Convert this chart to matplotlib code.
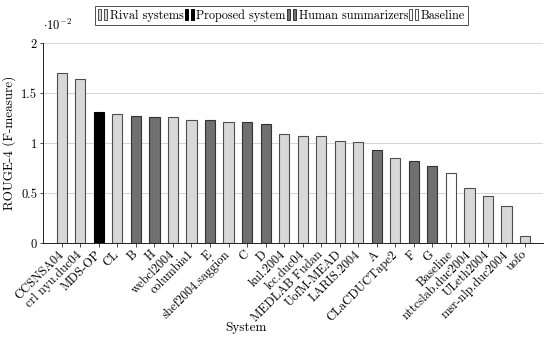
import matplotlib
matplotlib.use('Agg')
import matplotlib.pyplot as plt
from matplotlib.patches import Rectangle
from matplotlib.legend_handler import HandlerTuple
from matplotlib.ticker import FuncFormatter

# systems, sorted by score as in the figure
systems = ['CCSNSA04', 'crl nyu.duc04', 'MDS-OP', 'CL', 'B', 'H', 'webcl2004',
           'columbia1', 'E', 'shef2004.saggion', 'C', 'D', 'kul.2004', 'lcc.duc04',
           'MEDLAB Fudan', 'UofM-MEAD', 'LARIS.2004', 'A', 'CLaCDUCTape2', 'F', 'G',
           'Baseline', 'nttcslab.duc2004', 'ULeth2004', 'msr-nlp.duc2004', 'uofo']
# ROUGE-4 scores in units of 1e-2
scores = [1.70, 1.645, 1.315, 1.29, 1.275, 1.265, 1.257, 1.233, 1.23, 1.213,
          1.21, 1.187, 1.093, 1.073, 1.067, 1.02, 1.01, 0.933, 0.853, 0.823,
          0.767, 0.697, 0.547, 0.467, 0.373, 0.07]
groups = ['rival', 'rival', 'proposed', 'rival', 'human', 'human', 'rival',
          'rival', 'human', 'rival', 'human', 'human', 'rival', 'rival',
          'rival', 'rival', 'rival', 'human', 'rival', 'human', 'human',
          'baseline', 'rival', 'rival', 'rival', 'rival']

group_names = ['Rival systems', 'Proposed system', 'Human summarizers', 'Baseline']
group_keys = ['rival', 'proposed', 'human', 'baseline']
face = {'rival': '#d8d8d8', 'proposed': '#000000', 'human': '#707070', 'baseline': '#ffffff'}
edge = {'rival': '#4d4d4d', 'proposed': '#000000', 'human': '#333333', 'baseline': '#4d4d4d'}

plt.rcParams['font.family'] = 'serif'
plt.rcParams['font.serif'] = ['cmr10', 'DejaVu Serif']
plt.rcParams['mathtext.fontset'] = 'cm'
plt.rcParams['axes.unicode_minus'] = False

fig = plt.figure(figsize=(5.5, 3.39), dpi=100)
ax = fig.add_axes([0.0776, 0.283, 0.909, 0.59])

x = list(range(len(systems)))
ax.bar(x, scores, width=0.55,
       color=[face[g] for g in groups],
       edgecolor=[edge[g] for g in groups], linewidth=0.8, zorder=3)

ax.set_xlim(-1.03, 25.95)
ax.set_ylim(0, 2)
ax.set_yticks([0, 0.5, 1, 1.5, 2])
ax.yaxis.set_major_formatter(FuncFormatter(lambda v, p: f'{v:g}'))
ax.yaxis.grid(True, color='#cccccc', linewidth=0.6, zorder=0)
ax.set_axisbelow(True)

for s in ['top', 'right']:
    ax.spines[s].set_visible(False)
for s in ['left', 'bottom']:
    ax.spines[s].set_linewidth(0.7)
    ax.spines[s].set_color('#222222')

ax.set_xticks(x)
ax.set_xticklabels(systems, rotation=45, ha='right', va='center',
                   rotation_mode='anchor', fontsize=9)
ax.tick_params(axis='x', direction='out', length=3, width=0.5, pad=4)
ax.tick_params(axis='y', direction='out', length=2, width=0.5, labelsize=9, pad=2)

ax.set_ylabel('ROUGE-4 (F-measure)', fontsize=9.5)
ax.yaxis.set_label_coords(-0.054, 0.5)
ax.set_xlabel('System', fontsize=9.5)
ax.xaxis.set_label_coords(0.407, -0.425)
ax.xaxis.label.set_va('center')

ax.text(0.0, 1.05, r'$\cdot10^{-2}$', transform=ax.transAxes, fontsize=9,
        ha='left', va='bottom')

handles = [(Rectangle((0, 0), 1, 1, fc=face[k], ec=edge[k], lw=0.7),
            Rectangle((0, 0), 1, 1, fc=face[k], ec=edge[k], lw=0.7)) for k in group_keys]
leg = fig.legend(handles, group_names, loc='center', bbox_to_anchor=(0.512, 0.955),
                 ncol=4, fontsize=8.8, frameon=True, fancybox=False,
                 handler_map={tuple: HandlerTuple(ndivide=None, pad=0.25)},
                 handlelength=0.75, handleheight=1.0, handletextpad=0.2,
                 columnspacing=0.1, borderpad=0.25, borderaxespad=0)
leg.get_frame().set_edgecolor('#222222')
leg.get_frame().set_linewidth(0.7)

fig.savefig('out.png', dpi=100)
